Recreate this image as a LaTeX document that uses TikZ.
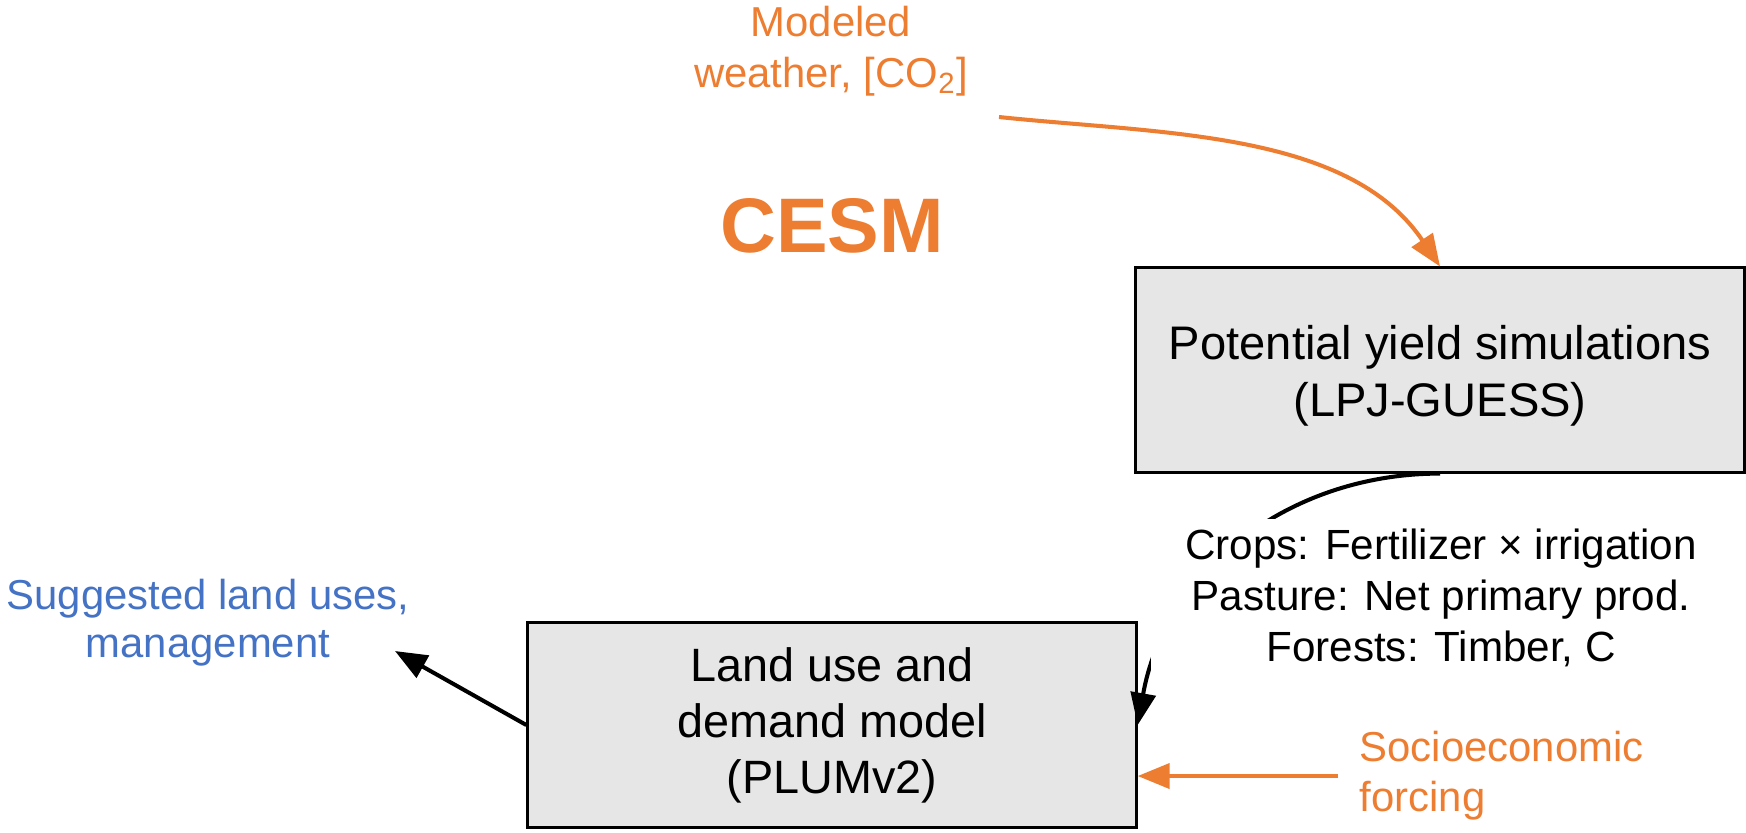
\documentclass[tikz,border=0pt]{standalone}
\usepackage{fontspec}
\setmainfont{Liberation Sans}
\usetikzlibrary{arrows.meta}

\definecolor{cesmorange}{HTML}{ED7D31}
\definecolor{landblue}{HTML}{4472C4}
\definecolor{boxgray}{HTML}{E6E6E6}

\begin{document}
\begin{tikzpicture}[x=0.01cm,y=0.01cm,
    model/.style={draw=black,line width=0.85pt,fill=boxgray,minimum width=6.08cm,minimum height=2.04cm,inner sep=0pt,align=center},
    flow/.style={line width=1.15pt,-{Triangle[length=3.2mm,width=2.5mm]}}]
    \useasboundingbox (0,0) rectangle (1746,-832);

    % the two models
    \node[model,font=\fontsize{13.4}{16.2}\selectfont] (lpj) at (1440,-370) {\rule{0pt}{4.5mm}Potential yield simulations\\(LPJ-GUESS)};
    \node[model,font=\fontsize{13.3}{15.9}\selectfont] (plum) at (832,-725) {Land use and\\demand model\\(PLUMv2)};

    % inputs and outputs
    \node[text=cesmorange,font=\bfseries\fontsize{22}{26}\selectfont] (cesm) at (832,-226) {CESM};
    \node[text=cesmorange,align=center,font=\fontsize{11.9}{14.5}\selectfont] (weather) at (831,-51) {Modeled\\weather, [CO\textsubscript{2}]};
    \node[text=landblue,align=center,font=\fontsize{11.9}{13.7}\selectfont] (suggested) at (208,-623) {Suggested land uses,\\management};
    \node[text=cesmorange,align=left,anchor=west,inner xsep=2.1mm,font=\fontsize{11.9}{14.2}\selectfont] (socio) at (1338,-776) {Socioeconomic\\forcing};
    \coordinate (co2) at (999,-117);
    \coordinate (landout) at (395,-651);

    \draw[flow,cesmorange] (co2) to[out=-6,in=124,looseness=0.9] (lpj.north);
    \draw[flow] (lpj.south) to[out=180,in=80] (plum.east);
    \draw[flow] (plum.west) -- (landout);
    \draw[flow,cesmorange] (socio.west) -- (plum.east |- socio.west);

    % yields passed on to PLUM, over the curve
    \node[fill=white,align=center,inner xsep=3.4mm,inner ysep=1mm,font=\fontsize{12}{14.6}\selectfont] (yields) at (1441,-598) {Crops: Fertilizer × irrigation\\Pasture: Net primary prod.\\Forests: Timber, C};
\end{tikzpicture}
\end{document}
